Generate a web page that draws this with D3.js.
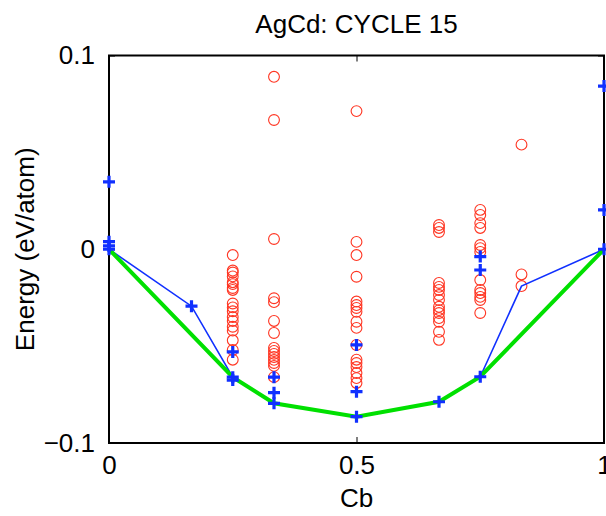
<!DOCTYPE html>
<html>
<head>
<meta charset="utf-8">
<script src="https://cdn.jsdelivr.net/npm/d3@7"></script>
<style>
  body { margin: 0; background: #fff; }
  text { font-family: "Liberation Sans", Arial, Helvetica, sans-serif; }
</style>
</head>
<body>
<div id="chart"></div>
<script>
// red circles: fitted structures per composition
const redComp = [0.25, 1/3, 0.5, 2/3, 0.75, 5/6];
const red25 = [-0.003, -0.011, -0.012, -0.014, -0.017, -0.018, -0.020, -0.021, -0.028, -0.030, -0.032, -0.035, -0.037, -0.040, -0.042, -0.047, -0.052, -0.057];
const red33 = [0.089, 0.0667, 0.0053, -0.0253, -0.0273, -0.0370, -0.0432, -0.0509, -0.0525, -0.054, -0.0556, -0.0571, -0.0587, -0.0602, -0.066];
const red50 = [0.0713, 0.0038, -0.0030, -0.0142, -0.027, -0.0288, -0.0303, -0.0323, -0.0374, -0.0406, -0.0494, -0.057, -0.0587, -0.0608, -0.0639, -0.0665, -0.069];
const red67 = [0.0125, 0.011, 0.0089, -0.0174, -0.0194, -0.021, -0.0236, -0.0262, -0.0297, -0.0314, -0.0329, -0.0355, -0.0374, -0.0426, -0.0468];
const red75 = [0.0203, 0.0177, 0.0135, 0.011, 0.0022, 0.0006, -0.0014, -0.0159, -0.021, -0.0226, -0.0246, -0.0262, -0.0329];
const red83 = [0.054, -0.013, -0.019];

// blue crosses: calculated structures
const calcComp   = [0, 0, 0, 0, 1/6, 0.25, 0.25, 0.25, 1/3, 1/3, 1/3, 0.5, 0.5, 0.5, 2/3, 0.75, 0.75, 0.75, 1, 1, 1];
const calcEnergy = [0.0348, 0.0039, 0.0017, 0, -0.0294, -0.053, -0.066, -0.0675, -0.066, -0.074, -0.0795, -0.0494, -0.0735, -0.0864, -0.0787, -0.0038, -0.0107, -0.0658, 0.0842, 0.0203, 0];

// blue line (fitted hull) and green line (calculated hull)
const fitComp   = [0, 1/6, 0.25, 1/3, 0.5, 2/3, 0.75, 5/6, 1];
const fitEnergy = [0, -0.0294, -0.066, -0.0795, -0.0864, -0.0787, -0.0658, -0.019, 0];
const hullComp   = [0, 0.25, 1/3, 0.5, 2/3, 0.75, 1];
const hullEnergy = [0, -0.066, -0.0795, -0.0864, -0.0787, -0.0658, 0];

const xTicks = [0, 0.5, 1];
const xTickLabels = ["0", "0.5", "1"];
const yTicks = [-0.1, 0, 0.1];
const yTickLabels = ["\u22120.1", "0", "0.1"];

const W = 606, H = 516;
const margin = { top: 55.5, right: 2, bottom: 73, left: 109 };

const svg = d3.select("#chart").append("svg")
    .attr("width", W).attr("height", H);

const x = d3.scaleLinear().domain([0, 1]).range([margin.left, W - margin.right]);
const y = d3.scaleLinear().domain([-0.1, 0.1]).range([H - margin.bottom, margin.top]);

// axes with inward ticks
const fs = 26;
function styleAxis(g) {
    g.select(".domain").remove();
    g.selectAll(".tick line").attr("stroke", "#000").attr("stroke-width", 1);
    g.selectAll(".tick text").attr("font-size", fs).attr("fill", "#000");
}
svg.append("g")
    .attr("transform", `translate(0,${y(-0.1)})`)
    .call(d3.axisBottom(x).tickValues(xTicks).tickSizeInner(-6).tickPadding(13)
        .tickFormat((d, i) => xTickLabels[i]))
    .call(styleAxis);
svg.append("g")
    .attr("transform", `translate(0,${y(0.1)})`)
    .call(d3.axisTop(x).tickValues(xTicks).tickSizeInner(-6).tickFormat(""))
    .call(styleAxis);
svg.append("g")
    .attr("transform", `translate(${x(0)},0)`)
    .call(d3.axisLeft(y).tickValues(yTicks).tickSizeInner(-6).tickPadding(14)
        .tickFormat((d, i) => yTickLabels[i]))
    .call(styleAxis);
svg.append("g")
    .attr("transform", `translate(${x(1)},0)`)
    .call(d3.axisRight(y).tickValues(yTicks).tickSizeInner(-6).tickFormat(""))
    .call(styleAxis);

// box
svg.append("rect")
    .attr("x", x(0)).attr("y", y(0.1))
    .attr("width", x(1) - x(0)).attr("height", y(-0.1) - y(0.1))
    .attr("fill", "none").attr("stroke", "#000").attr("stroke-width", 2);

// red circles
const redSets = [red25, red33, red50, red67, red75, red83];
const redPts = redSets.flatMap((vals, i) => vals.map(v => ({ c: redComp[i], e: v })));
svg.append("g").selectAll("circle")
    .data(redPts)
    .join("circle")
    .attr("cx", d => x(d.c))
    .attr("cy", d => y(d.e))
    .attr("r", 5.4)
    .attr("fill", "none")
    .attr("stroke", "#ff3522")
    .attr("stroke-width", 1.1);

const line = d3.line().x(d => x(d[0])).y(d => y(d[1]));

svg.append("path")
    .datum(d3.zip(fitComp, fitEnergy))
    .attr("d", line)
    .attr("fill", "none")
    .attr("stroke", "#1030ff")
    .attr("stroke-width", 1.6);

svg.append("path")
    .datum(d3.zip(hullComp, hullEnergy))
    .attr("d", line)
    .attr("fill", "none")
    .attr("stroke", "#00e000")
    .attr("stroke-width", 4);

// blue crosses
const cs = 6;
svg.append("g").selectAll("path")
    .data(d3.zip(calcComp, calcEnergy))
    .join("path")
    .attr("d", d => {
        const px = x(d[0]), py = y(d[1]);
        return `M${px - cs},${py}H${px + cs}M${px},${py - cs}V${py + cs}`;
    })
    .attr("stroke", "#1030ff")
    .attr("stroke-width", 3.2)
    .attr("fill", "none");

// titles
svg.append("text")
    .attr("x", (x(0) + x(1)) / 2).attr("y", 33)
    .attr("text-anchor", "middle").attr("font-size", fs)
    .text("AgCd: CYCLE 15");
svg.append("text")
    .attr("x", (x(0) + x(1)) / 2).attr("y", 507)
    .attr("text-anchor", "middle").attr("font-size", fs)
    .text("Cb");
svg.append("text")
    .attr("transform", `translate(34,${(y(0.1) + y(-0.1)) / 2}) rotate(-90)`)
    .attr("text-anchor", "middle").attr("font-size", fs)
    .text("Energy (eV/atom)");
</script>
</body>
</html>
